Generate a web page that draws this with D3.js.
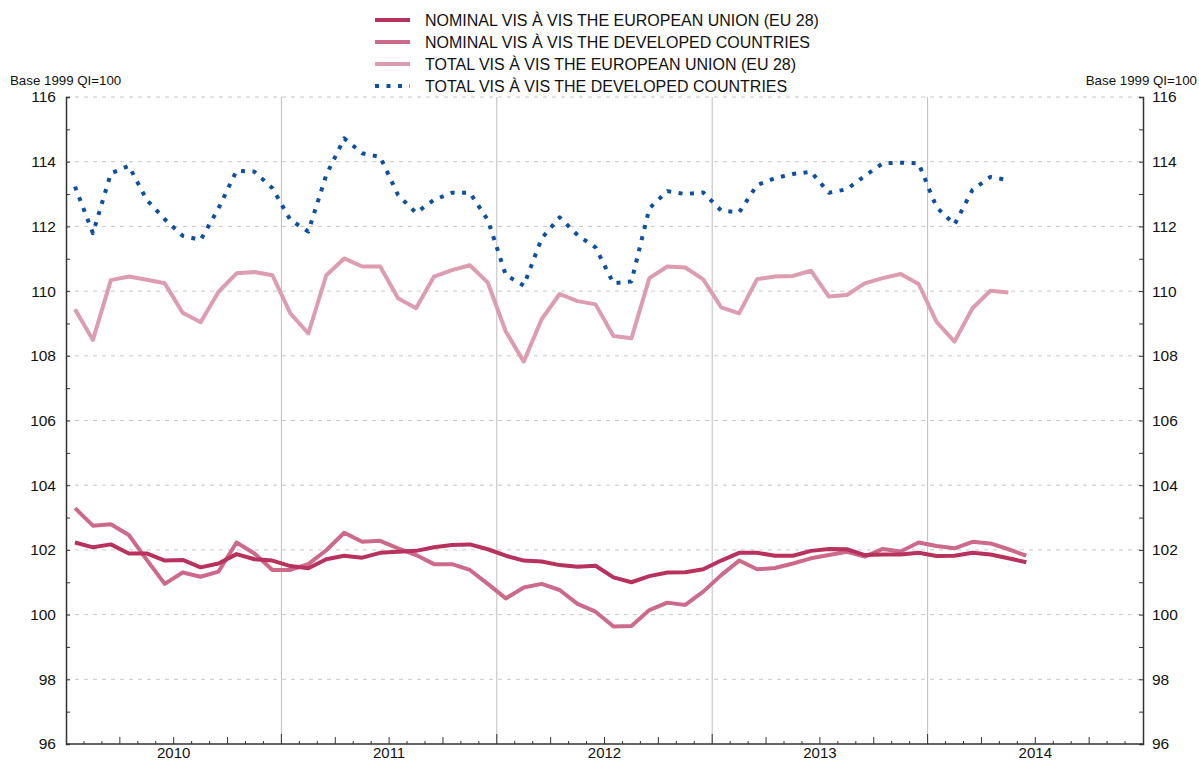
<!DOCTYPE html>
<html>
<head>
<meta charset="utf-8">
<script src="https://cdn.jsdelivr.net/npm/d3@7"></script>
<style>
  body { margin: 0; background: #fff; }
  svg { display: block; font-family: "Liberation Sans", Arial, sans-serif; }
</style>
</head>
<body>
<div id="chart"></div>
<script>
// Monthly index values, Jan 2010 onwards
const years = ["2010", "2011", "2012", "2013", "2014"];

const nominalEU = [
  102.23, 102.08, 102.17, 101.89, 101.89, 101.67, 101.69, 101.46, 101.58, 101.87, 101.71, 101.67,
  101.50, 101.43, 101.71, 101.82, 101.76, 101.91, 101.94, 101.97, 102.08, 102.15, 102.17, 102.02,
  101.82, 101.67, 101.64, 101.53, 101.48, 101.51, 101.15, 101.00, 101.19, 101.30, 101.31, 101.40,
  101.67, 101.91, 101.91, 101.82, 101.82, 101.97, 102.03, 102.02, 101.84, 101.86, 101.86, 101.91,
  101.81, 101.82, 101.91, 101.86, 101.74, 101.62
];

const nominalDev = [
  103.29, 102.75, 102.79, 102.46, 101.69, 100.95, 101.30, 101.17, 101.33, 102.23, 101.89, 101.38,
  101.38, 101.56, 101.99, 102.53, 102.25, 102.28, 102.05, 101.84, 101.56, 101.56, 101.38, 100.95,
  100.50, 100.84, 100.95, 100.76, 100.33, 100.09, 99.63, 99.65, 100.14, 100.37, 100.30, 100.71,
  101.22, 101.67, 101.40, 101.44, 101.58, 101.74, 101.84, 101.94, 101.79, 102.03, 101.95, 102.23,
  102.12, 102.05, 102.25, 102.20, 102.02, 101.82
];

const totalEU = [
  109.44, 108.49, 110.34, 110.45, 110.35, 110.24, 109.33, 109.04, 109.98, 110.55, 110.59, 110.49,
  109.31, 108.69, 110.49, 111.01, 110.76, 110.76, 109.78, 109.47, 110.45, 110.65, 110.80, 110.26,
  108.75, 107.82, 109.13, 109.91, 109.69, 109.59, 108.61, 108.54, 110.40, 110.76, 110.73, 110.36,
  109.50, 109.31, 110.37, 110.45, 110.47, 110.63, 109.83, 109.88, 110.24, 110.40, 110.53, 110.22,
  109.05, 108.44, 109.47, 110.01, 109.96
];

const totalDev = [
  113.23, 111.79, 113.64, 113.87, 112.82, 112.22, 111.71, 111.58, 112.56, 113.72, 113.69, 113.18,
  112.20, 111.84, 113.59, 114.72, 114.26, 114.15, 112.97, 112.42, 112.82, 113.04, 113.04, 112.20,
  110.50, 110.17, 111.63, 112.28, 111.73, 111.35, 110.24, 110.30, 112.56, 113.09, 113.00, 113.05,
  112.49, 112.43, 113.28, 113.49, 113.62, 113.69, 113.04, 113.15, 113.56, 113.95, 113.97, 113.95,
  112.59, 112.06, 113.13, 113.53, 113.43
];

const seriesNames = [
  "NOMINAL VIS À VIS THE EUROPEAN UNION (EU 28)",
  "NOMINAL VIS À VIS THE DEVELOPED COUNTRIES",
  "TOTAL VIS À VIS THE EUROPEAN UNION (EU 28)",
  "TOTAL VIS À VIS THE DEVELOPED COUNTRIES"
];
const seriesColors = ["#b8325d", "#cd6a8a", "#dd9cb0", "#0c4fa3"];

const series = [
  {name: seriesNames[0], values: nominalEU, color: seriesColors[0], dotted: false},
  {name: seriesNames[1], values: nominalDev, color: seriesColors[1], dotted: false},
  {name: seriesNames[2], values: totalEU, color: seriesColors[2], dotted: false},
  {name: seriesNames[3], values: totalDev, color: seriesColors[3], dotted: true}
];

const width = 1199;
const height = 763;
const margin = {top: 97, right: 56, bottom: 19, left: 66};

const x = d3.scaleLinear()
    .domain([0, years.length * 12])
    .range([margin.left, width - margin.right]);

const y = d3.scaleLinear()
    .domain([96, 116])
    .range([height - margin.bottom, margin.top]);

const svg = d3.select("#chart").append("svg")
    .attr("width", width)
    .attr("height", height);

// dashed horizontal grid
svg.append("g")
  .selectAll("line")
  .data(d3.range(98, 117, 2))
  .join("line")
    .attr("x1", margin.left)
    .attr("x2", width - margin.right)
    .attr("y1", d => y(d))
    .attr("y2", d => y(d))
    .attr("stroke", "#c8c8c8")
    .attr("stroke-width", 1)
    .attr("stroke-dasharray", "4,5");

// year separators
svg.append("g")
  .selectAll("line")
  .data(d3.range(12, years.length * 12, 12))
  .join("line")
    .attr("x1", d => x(d))
    .attr("x2", d => x(d))
    .attr("y1", margin.top)
    .attr("y2", height - margin.bottom)
    .attr("stroke", "#bdbdbd")
    .attr("stroke-width", 1);

// left axis
const leftAxis = svg.append("g")
    .attr("transform", `translate(${margin.left},0)`)
    .call(d3.axisRight(y).tickValues(d3.range(96, 117, 1)).tickSize(4).tickFormat(""));
leftAxis.select(".domain").attr("stroke", "#333").attr("stroke-width", 1.5);
leftAxis.selectAll(".tick line").attr("stroke", "#333");
leftAxis.append("g").selectAll("text")
  .data(d3.range(96, 117, 2))
  .join("text")
    .attr("x", -10)
    .attr("y", d => y(d))
    .attr("dy", "0.35em")
    .attr("text-anchor", "end")
    .attr("fill", "#111")
    .style("font-size", "15.5px")
    .text(d => d);

// right axis
const rightAxis = svg.append("g")
    .attr("transform", `translate(${width - margin.right},0)`)
    .call(d3.axisLeft(y).tickValues(d3.range(96, 117, 1)).tickSize(4).tickFormat(""));
rightAxis.select(".domain").attr("stroke", "#333").attr("stroke-width", 1.5);
rightAxis.selectAll(".tick line").attr("stroke", "#333");
rightAxis.append("g").selectAll("text")
  .data(d3.range(96, 117, 2))
  .join("text")
    .attr("x", 9)
    .attr("y", d => y(d))
    .attr("dy", "0.35em")
    .attr("text-anchor", "start")
    .attr("fill", "#111")
    .style("font-size", "15.5px")
    .text(d => d);

// bottom axis with monthly ticks
const bottom = svg.append("g")
    .attr("transform", `translate(0,${height - margin.bottom})`);
bottom.append("line")
    .attr("x1", margin.left)
    .attr("x2", width - margin.right)
    .attr("stroke", "#333")
    .attr("stroke-width", 1.5);
bottom.selectAll("line.tick")
  .data(d3.range(1, years.length * 12))
  .join("line")
    .attr("class", "tick")
    .attr("x1", d => x(d))
    .attr("x2", d => x(d))
    .attr("y1", 0)
    .attr("y2", d => d % 12 === 0 ? -10 : d % 3 === 0 ? -7 : -3)
    .attr("stroke", "#333")
    .attr("stroke-width", 1);
bottom.selectAll("text")
  .data(years)
  .join("text")
    .attr("x", (d, i) => x(i * 12 + 6))
    .attr("y", 14)
    .attr("text-anchor", "middle")
    .attr("fill", "#111")
    .style("font-size", "15px")
    .text(d => d);

// unit labels
svg.append("text")
    .attr("x", 10)
    .attr("y", 85)
    .attr("fill", "#111")
    .style("font-size", "13.3px")
    .text("Base 1999 QI=100");
svg.append("text")
    .attr("x", 1197)
    .attr("y", 85)
    .attr("text-anchor", "end")
    .attr("fill", "#111")
    .style("font-size", "13.3px")
    .text("Base 1999 QI=100");

// lines
const line = d3.line()
    .x((d, i) => x(i + 0.5))
    .y(d => y(d));

svg.append("g")
  .selectAll("path")
  .data(series.slice().reverse())
  .join("path")
    .attr("fill", "none")
    .attr("stroke", d => d.color)
    .attr("stroke-width", 4)
    .attr("stroke-linejoin", "round")
    .attr("stroke-dasharray", d => d.dotted ? "4,7.5" : null)
    .attr("d", d => line(d.values));

// legend
const legend = svg.append("g")
  .selectAll("g")
  .data(series)
  .join("g")
    .attr("transform", (d, i) => `translate(375,${20 + i * 22})`);
legend.append("line")
    .attr("x1", 0)
    .attr("x2", 35)
    .attr("stroke", d => d.color)
    .attr("stroke-width", 4)
    .attr("stroke-dasharray", d => d.dotted ? "4,7.5" : null);
legend.append("text")
    .attr("x", 50)
    .attr("dy", "0.36em")
    .attr("fill", "#111")
    .style("font-size", "16px")
    .text(d => d.name);
</script>
</body>
</html>
